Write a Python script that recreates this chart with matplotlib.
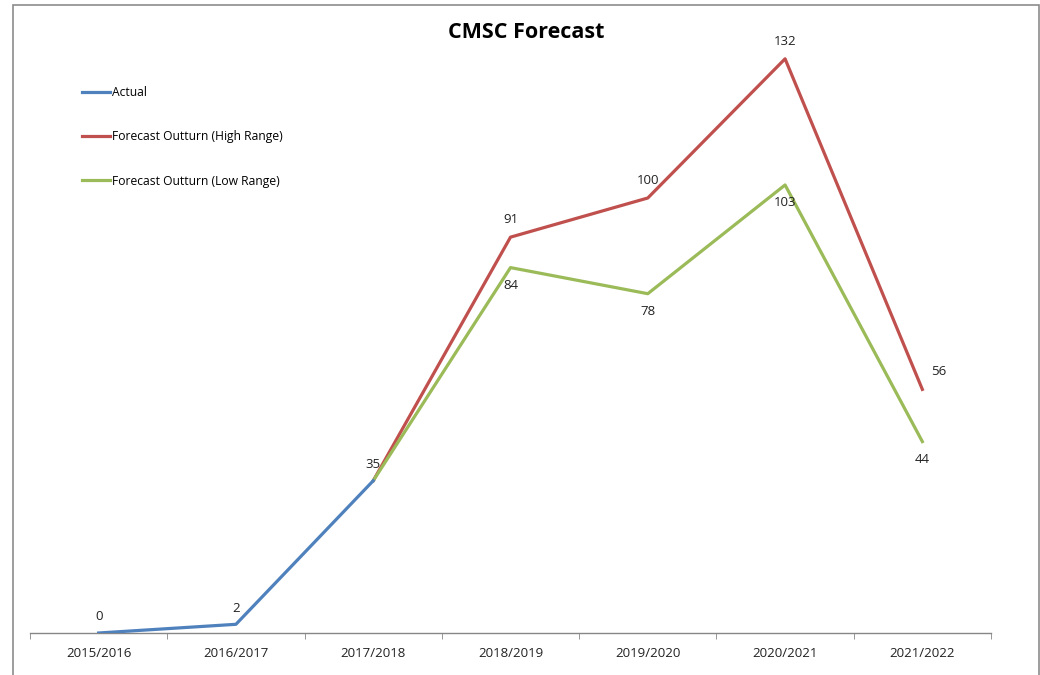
import numpy as np
import matplotlib.pyplot as plt
from matplotlib.patches import Rectangle

# data
years = ["2015/2016", "2016/2017", "2017/2018", "2018/2019", "2019/2020", "2020/2021", "2021/2022"]
actual = [0, 2, 35]
high = [35, 91, 100, 132, 56]
low = [35, 84, 78, 103, 44]

c_act = "#4F81BD"
c_high = "#C0504D"
c_low = "#9BBB59"

plt.rcParams['font.family'] = ['Open Sans', 'DejaVu Sans']

fig = plt.figure(figsize=(10.4, 6.75), dpi=100)
W, H = 1040, 675
ax = fig.add_axes([30 / W, 1 - 633 / H, (991 - 30) / W, (633 - 24) / H])

x = np.arange(len(years))
xa = x[:len(actual)]
xf = x[2:2 + len(high)]

ax.plot(xf, high, color=c_high, lw=2.3, label="Forecast Outturn (High Range)", zorder=2)
ax.plot(xf, low, color=c_low, lw=2.3, label="Forecast Outturn (Low Range)", zorder=3)
ax.plot(xa, actual, color=c_act, lw=2.3, label="Actual", zorder=4)

# data labels
fs = 9.5
for xi, v in zip(xa[:2], actual[:2]):
    ax.annotate(str(v), (xi, v), xytext=(0, 7), textcoords="offset points",
                ha="center", va="bottom", fontsize=fs, color="#222222")
ax.annotate(str(actual[2]), (xa[2], actual[2]), xytext=(0, 7), textcoords="offset points",
            ha="center", va="bottom", fontsize=fs, color="#222222")
for i, (xi, v) in enumerate(zip(xf[1:], high[1:])):
    dx = 12 if i == len(high) - 2 else 0
    ax.annotate(str(v), (xi, v), xytext=(dx, 8), textcoords="offset points",
                ha="center", va="bottom", fontsize=fs, color="#222222")
for xi, v in zip(xf[1:], low[1:]):
    ax.annotate(str(v), (xi, v), xytext=(0, -8), textcoords="offset points",
                ha="center", va="top", fontsize=fs, color="#222222")

ax.set_xlim(-0.5, len(years) - 0.5)
ax.set_ylim(0, 140)
ax.set_xticks(x)
ax.set_xticklabels(years, fontsize=9.5, color="#222222")
ax.tick_params(axis="x", which="major", length=0, pad=10)
ax.set_xticks(np.arange(-0.5, len(years)), minor=True)
ax.tick_params(axis="x", which="minor", length=4, color="#868686", direction="out")
ax.set_yticks([])
for s in ["top", "right", "left"]:
    ax.spines[s].set_visible(False)
ax.spines["bottom"].set_color("#868686")
ax.spines["bottom"].set_linewidth(1)

fig.text(526 / W, 1 - 33 / H, "CMSC Forecast", ha="center", va="center",
         fontsize=15.5, fontweight="bold")

h, l = ax.get_legend_handles_labels()
order = [2, 0, 1]
fig.legend([h[i] for i in order], [l[i] for i in order], loc="upper left",
           bbox_to_anchor=(71 / W, 1 - 75 / H), frameon=False, fontsize=8.7,
           handlelength=2.3, handletextpad=0.2, labelspacing=2.6)

# outer frame
fig.patches.append(Rectangle((13 / W, -0.05), (1039 - 13) / W, 1.05 - 5 / H,
                             transform=fig.transFigure, fill=False,
                             edgecolor="#8c8c8c", lw=1.2))

fig.savefig("out.png", dpi=100)
